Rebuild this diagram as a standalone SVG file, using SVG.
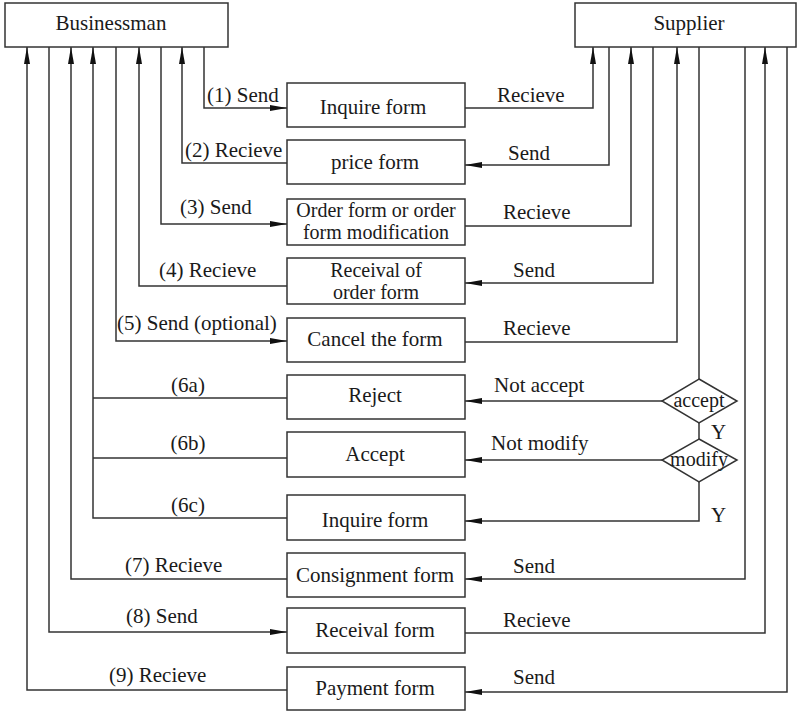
<svg xmlns="http://www.w3.org/2000/svg" width="798" height="712" viewBox="0 0 798 712">
<style>
rect.b{fill:#fff;stroke:#333;stroke-width:1.5}
polygon.d{fill:#fff;stroke:#333;stroke-width:1.5}
text{font-family:"Liberation Serif","Times New Roman",serif;font-size:21px;fill:#1a1a1a}
.m{text-anchor:middle}
.t{font-size:20px}
#conn path{fill:none;stroke:#333;stroke-width:1.5}
</style>
<defs>
<marker id="a" markerUnits="userSpaceOnUse" markerWidth="17" markerHeight="7" refX="17" refY="3.5" orient="auto">
<path d="M0,0.5 L17,3.5 L0,6.5 Z" fill="#111"/>
</marker>
</defs>
<rect width="798" height="712" fill="#fff"/>
<g id="conn">
<path d="M204,47 V108 H287" marker-end="url(#a)"/>
<path d="M287,163 H182 V47" marker-end="url(#a)"/>
<path d="M161,47 V224 H287" marker-end="url(#a)"/>
<path d="M287,286 H139 V47" marker-end="url(#a)"/>
<path d="M116,47 V341 H287" marker-end="url(#a)"/>
<path d="M287,398 H93"/>
<path d="M287,458 H93"/>
<path d="M287,518 H93 V47" marker-end="url(#a)"/>
<path d="M287,579 H71 V47" marker-end="url(#a)"/>
<path d="M49,47 V632 H287" marker-end="url(#a)"/>
<path d="M287,690 H27 V47" marker-end="url(#a)"/>
<path d="M465,108 H593 V47" marker-end="url(#a)"/>
<path d="M609,47 V165 H465" marker-end="url(#a)"/>
<path d="M465,226 H631 V47" marker-end="url(#a)"/>
<path d="M653,47 V283 H465" marker-end="url(#a)"/>
<path d="M465,342 H677 V47" marker-end="url(#a)"/>
<path d="M699,47 V379"/>
<path d="M662,401 H465" marker-end="url(#a)"/>
<path d="M699,423 V439"/>
<path d="M662,460 H465" marker-end="url(#a)"/>
<path d="M699,482 V521 H465" marker-end="url(#a)"/>
<path d="M745,47 V579 H465" marker-end="url(#a)"/>
<path d="M465,633 H765 V47" marker-end="url(#a)"/>
<path d="M787,47 V692 H465" marker-end="url(#a)"/>
</g>
<g id="labels">
<text x="207" y="102">(1) Send</text>
<text x="497" y="102">Recieve</text>
<text x="185" y="157">(2) Recieve</text>
<text x="508" y="160">Send</text>
<text x="180" y="214">(3) Send</text>
<text x="503" y="219">Recieve</text>
<text x="159" y="277">(4) Recieve</text>
<text x="513" y="277">Send</text>
<text x="117" y="330">(5) Send (optional)</text>
<text x="503" y="335">Recieve</text>
<text x="188" y="392" class="m">(6a)</text>
<text x="188" y="450" class="m">(6b)</text>
<text x="188" y="512" class="m">(6c)</text>
<text x="494" y="392">Not accept</text>
<text x="491" y="450">Not modify</text>
<text x="711" y="439">Y</text>
<text x="711" y="522">Y</text>
<text x="125" y="572">(7) Recieve</text>
<text x="513" y="573">Send</text>
<text x="126" y="623">(8) Send</text>
<text x="503" y="627">Recieve</text>
<text x="109" y="682">(9) Recieve</text>
<text x="513" y="684">Send</text>
</g>
<g id="businessman"><rect class="b" x="5" y="3" width="223" height="44"/><text x="111" y="30" class="m">Businessman</text></g>
<g id="supplier"><rect class="b" x="575" y="3" width="221" height="44"/><text x="689" y="30" class="m">Supplier</text></g>
<g id="inquire1"><rect class="b" x="287" y="83" width="178" height="44"/><text x="373" y="114" class="m">Inquire form</text></g>
<g id="price"><rect class="b" x="287" y="140" width="178" height="44"/><text x="375" y="169" class="m">price form</text></g>
<g id="order"><rect class="b" x="287" y="199" width="178" height="46"/><text x="376" y="217" class="m t">Order form or order</text><text x="376" y="239" class="m t">form modification</text></g>
<g id="receival-order"><rect class="b" x="287" y="258" width="178" height="46"/><text x="376" y="277" class="m t">Receival of</text><text x="376" y="299" class="m t">order form</text></g>
<g id="cancel"><rect class="b" x="287" y="318" width="178" height="44"/><text x="375" y="346" class="m">Cancel the form</text></g>
<g id="reject"><rect class="b" x="287" y="375" width="178" height="44"/><text x="375" y="402" class="m">Reject</text></g>
<g id="accept"><rect class="b" x="287" y="432" width="178" height="45"/><text x="375" y="461" class="m">Accept</text></g>
<g id="inquire2"><rect class="b" x="287" y="495" width="178" height="45"/><text x="375" y="527" class="m">Inquire form</text></g>
<g id="consignment"><rect class="b" x="287" y="553" width="178" height="44"/><text x="375" y="582" class="m">Consignment form</text></g>
<g id="receival"><rect class="b" x="287" y="608" width="178" height="45"/><text x="375" y="637" class="m">Receival form</text></g>
<g id="payment"><rect class="b" x="287" y="667" width="178" height="43"/><text x="375" y="695" class="m">Payment form</text></g>
<g id="d-accept"><polygon class="d" points="699,379 737,401 699,423 662,401"/><text x="699" y="407" class="m t">accept</text></g>
<g id="d-modify"><polygon class="d" points="699,439 737,460 699,482 662,460"/><text x="699" y="466" class="m t">modify</text></g>
</svg>
